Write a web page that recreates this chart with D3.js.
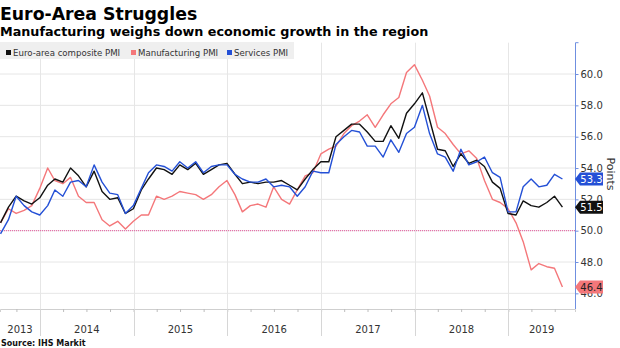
<!DOCTYPE html>
<html>
<head>
<meta charset="utf-8">
<script src="https://d3js.org/d3.v7.min.js"></script>
<style>
  body { margin: 0; background: #fff; }
  svg text { font-family: "DejaVu Sans", Verdana, sans-serif; }
</style>
</head>
<body>
<svg width="620" height="348"></svg>
<script>
// monthly PMI readings, Jul 2013 .. Jul 2019
const firstMonth = new Date(2013, 6, 1);

const composite = [
  50.5, 51.5, 52.2, 51.9, 51.7, 52.1,
  52.9, 53.3, 53.1, 54.0, 53.5, 52.8, 53.8, 52.5, 52.0, 52.1, 51.1, 51.4,
  52.6, 53.3, 54.0, 53.9, 53.6, 54.2, 53.9, 54.3, 53.6, 53.9, 54.2, 54.3,
  53.6, 53.0, 53.1, 53.0, 53.1, 53.1, 53.2, 52.9, 52.6, 53.3, 53.9, 54.4,
  54.4, 56.0, 56.4, 56.8, 56.8, 56.3, 55.7, 55.7, 56.7, 55.9, 57.5, 58.1,
  58.8, 57.1, 55.2, 55.1, 54.1, 54.9, 54.3, 54.5, 54.1, 53.1, 52.7, 51.1,
  51.0, 51.9, 51.6, 51.5, 51.8, 52.2, 51.5
];

const manufacturing = [
  50.5, 51.4, 51.1, 51.3, 51.6, 52.7,
  54.0, 53.2, 53.0, 53.4, 52.2, 51.8, 51.8, 50.7, 50.3, 50.6, 50.1, 50.6,
  51.0, 51.0, 52.2, 52.0, 52.2, 52.5, 52.4, 52.3, 52.0, 52.3, 52.8, 53.2,
  52.3, 51.2, 51.6, 51.7, 51.5, 52.8, 52.0, 51.7, 52.6, 53.5, 53.7, 54.9,
  55.2, 55.4, 56.2, 56.7, 57.0, 57.4, 56.6, 57.4, 58.1, 58.5, 60.1, 60.6,
  59.6, 58.6, 56.6, 56.2, 55.5, 54.9, 55.1, 54.6, 53.2, 52.0, 51.8, 51.4,
  50.5, 49.3, 47.5, 47.9, 47.7, 47.6, 46.4
];

const services = [
  49.8, 50.7, 52.2, 51.6, 51.2, 51.0,
  51.6, 52.6, 52.2, 53.1, 53.2, 52.8, 54.2, 53.1, 52.4, 52.3, 51.1, 51.6,
  52.7, 53.7, 54.2, 54.1, 53.8, 54.4, 54.0, 54.4, 53.7, 54.1, 54.2, 54.2,
  53.6, 53.3, 53.1, 53.1, 53.3, 52.8, 52.9, 52.8, 52.2, 52.8, 53.8, 53.7,
  53.7, 55.5, 56.0, 56.4, 56.3, 55.4, 55.4, 54.7, 55.8, 55.0, 56.2, 56.6,
  58.0, 56.2, 54.9, 54.7, 53.8, 55.2, 54.2, 54.4, 54.7, 53.7, 53.4, 51.2,
  51.2, 52.8, 53.3, 52.8, 52.9, 53.6, 53.3
];

const seriesNames = ['Euro-area composite PMI', 'Manufacturing PMI', 'Services PMI'];
const seriesColors = ['#111111', '#f4777a', '#2450d6'];
const yTicks = [46, 48, 50, 52, 54, 56, 58, 60];
const years = [2013, 2014, 2015, 2016, 2017, 2018, 2019];

const series = [composite, manufacturing, services].map((values, i) => ({
  name: seriesNames[i], color: seriesColors[i], values
}));

// each reading sits at the end of its month
const months = composite.map((_, i) =>
  d3.timeDay.offset(d3.timeMonth.offset(firstMonth, i + 1), -1));

const svg = d3.select('svg');
const plotW = 575, plotTop = 42.7, plotBottom = 309;

const x = d3.scaleTime()
  .domain([new Date(2013, 6, 29), new Date(2019, 8, 18)])
  .range([0, plotW]);
const y = d3.scaleLinear().domain([45, 62]).range([plotBottom, plotTop]);

// grid
svg.append('g').selectAll('line')
  .data(yTicks).join('line')
  .attr('x1', 0).attr('x2', plotW)
  .attr('y1', d => y(d)).attr('y2', d => y(d))
  .attr('stroke', '#e6e6e6').attr('stroke-width', 1);

const yearStarts = years.slice(1).map(yr => new Date(yr, 0, 1));
svg.append('g').selectAll('line')
  .data(yearStarts).join('line')
  .attr('x1', d => Math.round(x(d)) + 0.5).attr('x2', d => Math.round(x(d)) + 0.5)
  .attr('y1', plotTop).attr('y2', plotBottom)
  .attr('stroke', '#e6e6e6');

// 50 line
svg.append('line')
  .attr('x1', 0).attr('x2', plotW)
  .attr('y1', y(50)).attr('y2', y(50))
  .attr('stroke', '#e8559c').attr('stroke-dasharray', '1,1');

// bottom axis: quarter ticks + year separators
const xAxis = d3.axisBottom(x)
  .ticks(d3.timeMonth.every(3))
  .tickSize(3).tickFormat('');
const gx = svg.append('g').attr('transform', `translate(0,${plotBottom})`).call(xAxis);
gx.select('.domain').attr('stroke', '#cfcfcf');
gx.selectAll('.tick line').attr('stroke', '#bdbdbd');

svg.append('g').selectAll('line')
  .data(yearStarts).join('line')
  .attr('x1', d => Math.round(x(d)) + 0.5).attr('x2', d => Math.round(x(d)) + 0.5)
  .attr('y1', plotBottom).attr('y2', 336)
  .attr('stroke', '#d6d6d6');

const yearCenters = years.map(yr => {
  const a = Math.max(x(new Date(yr, 0, 1)), 0);
  const b = Math.min(x(new Date(yr + 1, 0, 1)), plotW);
  return (a + b) / 2;
});
svg.append('g').selectAll('text')
  .data(years).join('text')
  .attr('x', (d, i) => yearCenters[i]).attr('y', 333)
  .attr('text-anchor', 'middle')
  .attr('font-size', 10).attr('fill', '#333')
  .text(d => d);

// lines
const line = d3.line()
  .x((d, i) => x(months[i]))
  .y(d => y(d));

svg.append('g').selectAll('path')
  .data([series[1], series[0], series[2]]).join('path')
  .attr('d', d => line(d.values))
  .attr('fill', 'none')
  .attr('stroke', d => d.color)
  .attr('stroke-width', 1.4)
  .attr('stroke-linejoin', 'round');

// right axis
const yAxis = d3.axisRight(y).tickValues(yTicks).tickSize(3).tickPadding(2)
  .tickFormat(d3.format('.1f'));
const gy = svg.append('g').attr('transform', `translate(${plotW + 0.5},0)`).call(yAxis);
gy.select('.domain').attr('stroke', '#6f8fe0').attr('d', `M0,${plotTop}H3M0,${plotTop}V${plotBottom}`);
gy.selectAll('.tick line').attr('stroke', '#6f8fe0');
gy.selectAll('.tick text').attr('font-size', 10).attr('fill', '#333')
  .attr('font-family', '"DejaVu Sans", Verdana, sans-serif');

svg.append('text')
  .attr('transform', 'translate(607,174) rotate(90)')
  .attr('text-anchor', 'middle')
  .attr('font-size', 11).attr('fill', '#333')
  .text('Points');

// last-value tags (they sit over the 46.0 / 52.0 tick labels, as in the source)
const tagText = ['#ffffff', '#222222', '#ffffff'];
const tags = svg.append('g').selectAll('g')
  .data(series).join('g')
  .attr('transform', d => `translate(${plotW},${y(d.values[d.values.length - 1])})`);
tags.append('path')
  .attr('d', 'M0,0 L5,-6.5 H28 V6.5 H5 Z')
  .attr('fill', d => d.color);
tags.append('text')
  .attr('x', 16.5).attr('dy', '0.36em')
  .attr('text-anchor', 'middle')
  .attr('font-size', 10)
  .attr('fill', (d, i) => tagText[i])
  .text(d => d3.format('.1f')(d.values[d.values.length - 1]));

// legend
svg.append('rect').attr('x', 0).attr('y', 42).attr('width', 294).attr('height', 17)
  .attr('fill', '#efefef');
const legX = [6, 131, 227];
const leg = svg.append('g').selectAll('g')
  .data(series).join('g')
  .attr('transform', (d, i) => `translate(${legX[i]},0)`);
leg.append('rect').attr('y', 50).attr('width', 5).attr('height', 5).attr('fill', d => d.color);
leg.append('text').attr('x', 7).attr('y', 56)
  .attr('font-size', 8.6).attr('fill', '#333')
  .text(d => d.name);

// titles
svg.append('text').attr('x', 0).attr('y', 20)
  .attr('font-size', 17.3).attr('font-weight', 'bold').attr('fill', '#000')
  .text('Euro-Area Struggles');
svg.append('text').attr('x', 0).attr('y', 36)
  .attr('font-size', 12.75).attr('font-weight', 'bold').attr('fill', '#000')
  .text('Manufacturing weighs down economic growth in the region');
svg.append('text').attr('x', 1).attr('y', 346)
  .attr('font-size', 8).attr('font-weight', 'bold').attr('fill', '#111')
  .text('Source: IHS Markit');
</script>
</body>
</html>
